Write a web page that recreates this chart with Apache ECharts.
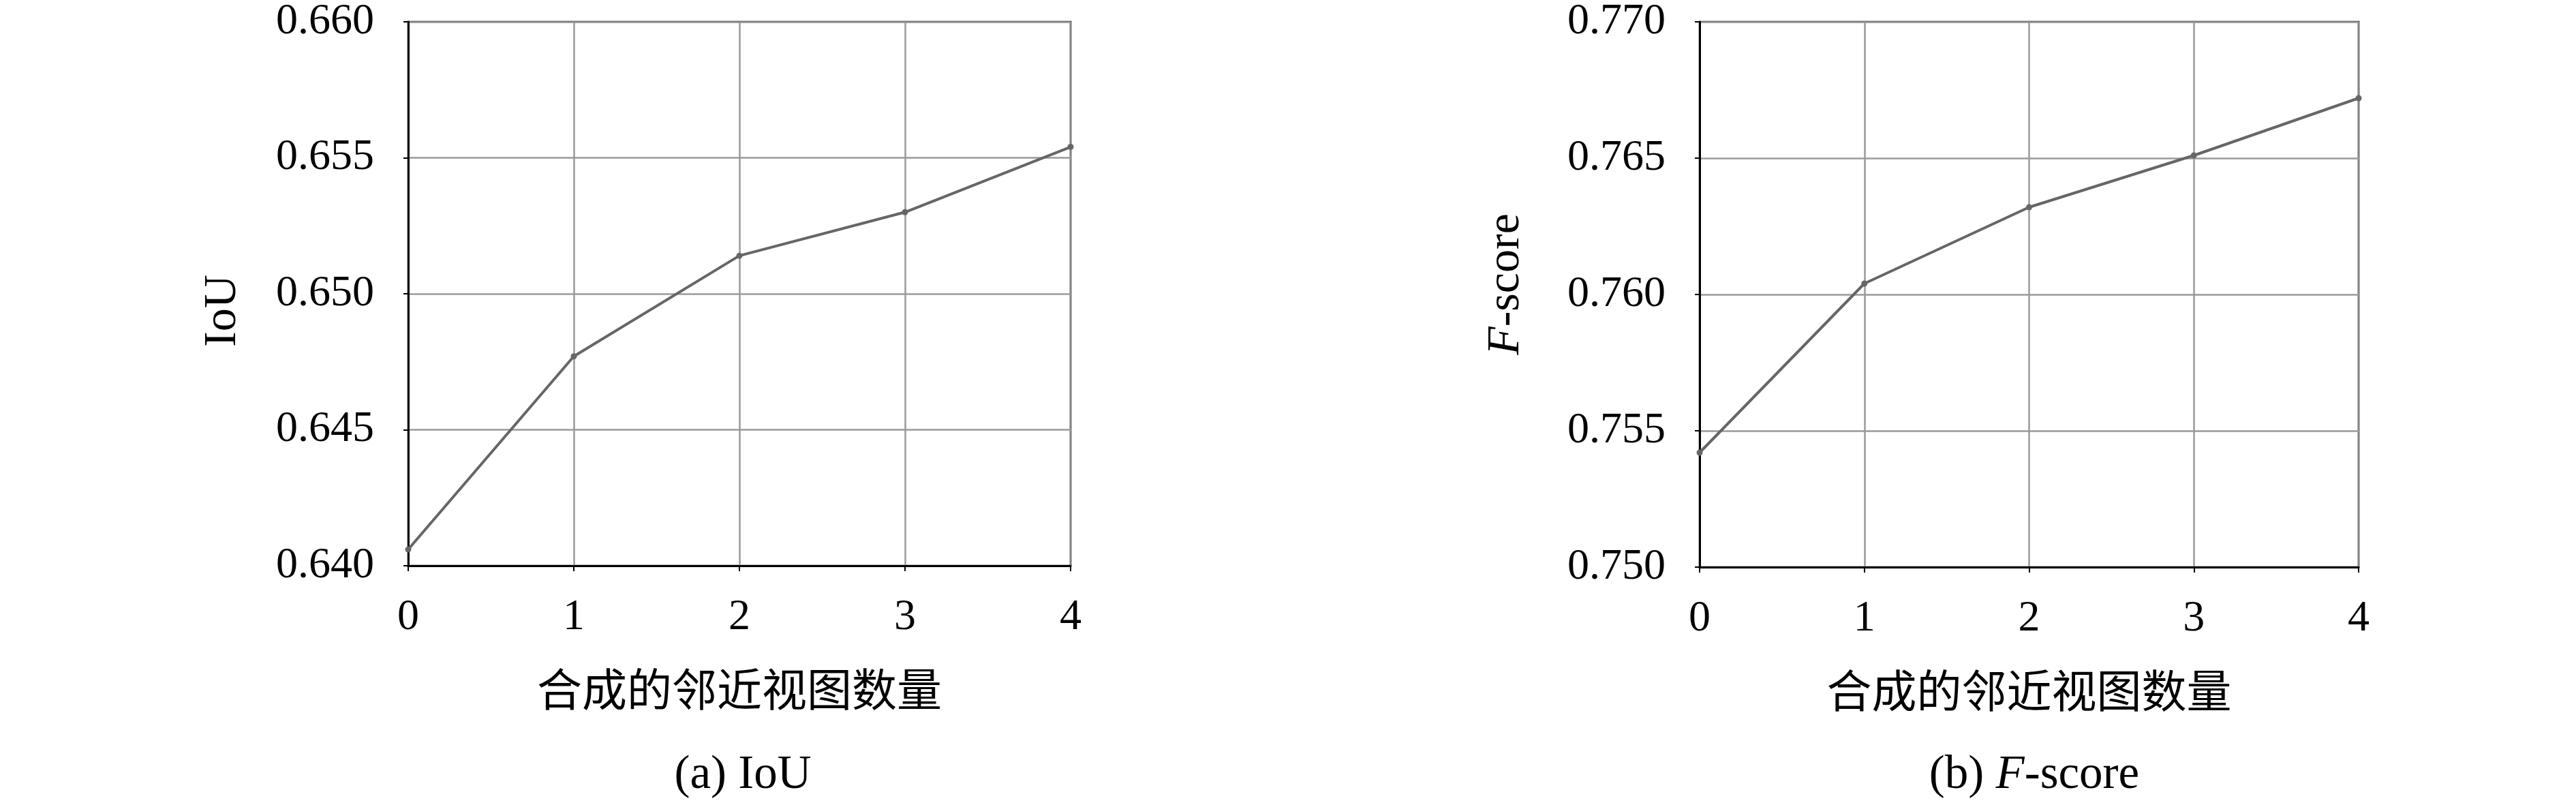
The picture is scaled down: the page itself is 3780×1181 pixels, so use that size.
<!DOCTYPE html>
<html>
<head>
<meta charset="utf-8">
<script src="https://cdn.jsdelivr.net/npm/echarts@6/dist/echarts.min.js"></script>
<style>
html,body{margin:0;padding:0;background:#fff;}
#chart{width:3780px;height:1181px;}
</style>
</head>
<body>
<div id="chart"></div>
<script>
// ---- data ----
const viewCounts = [0, 1, 2, 3, 4];
const iouValues = [0.6406, 0.6477, 0.6514, 0.6530, 0.6554];
const fscoreValues = [0.7542, 0.7604, 0.7632, 0.7651, 0.7672];
const iouTicks = [0.640, 0.645, 0.650, 0.655, 0.660];
const fscoreTicks = [0.750, 0.755, 0.760, 0.765, 0.770];
const xAxisName = '合成的邻近视图数量';
const captionA = '(a) IoU';
const captionB = '(b) {i|F}-score';
const yNameA = 'IoU';
const yNameB = '{i|F}-score';

const serif = '"Liberation Serif", "DejaVu Serif", serif';
const cjk = '"Noto Sans CJK SC", sans-serif';
const fs = 64;

function pairs(xs, ys) { return xs.map((x, i) => [x, ys[i]]); }

function xAxisCfg(gridIndex) {
  return {
    type: 'value', gridIndex: gridIndex,
    min: viewCounts[0], max: viewCounts[viewCounts.length - 1], interval: 1,
    name: xAxisName, nameLocation: 'middle', nameGap: 148,
    nameTextStyle: { fontFamily: cjk, fontSize: 66, color: '#000' },
    axisLine: { show: true, lineStyle: { color: '#000', width: 3 } },
    axisTick: { show: true, inside: false, length: 8, lineStyle: { color: '#000', width: 2 } },
    axisLabel: { margin: 44, fontFamily: serif, fontSize: fs, color: '#000' },
    splitLine: { show: true, lineStyle: { color: '#9a9a9a', width: 2.5 } }
  };
}
function yAxisCfg(gridIndex, ticks, name, gap, pad) {
  return {
    type: 'value', gridIndex: gridIndex,
    min: ticks[0], max: ticks[ticks.length - 1], interval: 0.005,
    name: name, nameLocation: 'middle', nameGap: gap,
    nameTextStyle: { fontFamily: serif, fontSize: 68, color: '#000', padding: pad,
      rich: { i: { fontFamily: serif, fontSize: 68, fontStyle: 'italic', color: '#000' } } },
    axisLine: { show: true, lineStyle: { color: '#000', width: 3 } },
    axisTick: { show: true, inside: false, length: 7, lineStyle: { color: '#000', width: 2 } },
    axisLabel: { margin: 50, fontFamily: serif, fontSize: fs, color: '#000',
      formatter: v => v.toFixed(3) },
    splitLine: { show: true, lineStyle: { color: '#9a9a9a', width: 2.5 } }
  };
}
function seriesCfg(idx, ys) {
  return {
    type: 'line', xAxisIndex: idx, yAxisIndex: idx,
    data: pairs(viewCounts, ys),
    symbol: 'circle', symbolSize: 9, showSymbol: true,
    lineStyle: { color: '#666666', width: 4 },
    itemStyle: { color: '#666666' },
    animation: false, silent: true
  };
}

const chart = echarts.init(document.getElementById('chart'), null, { renderer: 'canvas' });
chart.setOption({
  backgroundColor: '#fff',
  animation: false,
  grid: [
    { left: 599, top: 25, width: 972, height: 805, show: true, borderColor: '#000', borderWidth: 2.5, containLabel: false },
    { left: 2494, top: 25, width: 967, height: 807, show: true, borderColor: '#000', borderWidth: 2.5, containLabel: false }
  ],
  title: [
    { text: captionA, left: 1085, top: 1098, textAlign: 'center',
      textStyle: { fontFamily: serif, fontSize: 69, fontWeight: 'normal', color: '#000' } },
    { text: captionB, left: 2980, top: 1098, textAlign: 'center',
      textStyle: { fontFamily: serif, fontSize: 69, fontWeight: 'normal', color: '#000',
        rich: { i: { fontFamily: serif, fontSize: 69, fontStyle: 'italic', color: '#000' } } } }
  ],
  xAxis: [xAxisCfg(0), xAxisCfg(1)],
  yAxis: [yAxisCfg(0, iouTicks, yNameA, 238, [0, 50, 0, 0]), yAxisCfg(1, fscoreTicks, yNameB, 250, [0, 0, 0, 30])],
  series: [seriesCfg(0, iouValues), seriesCfg(1, fscoreValues)]
});
</script>
</body>
</html>
